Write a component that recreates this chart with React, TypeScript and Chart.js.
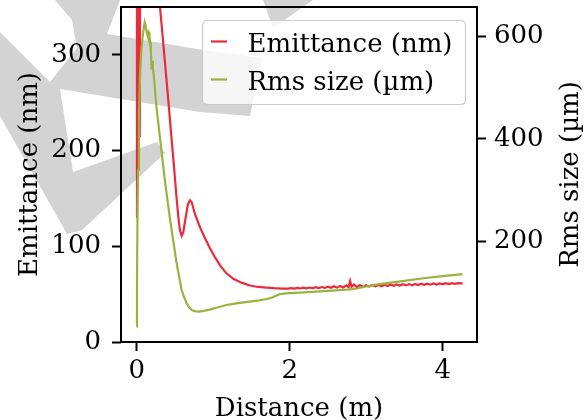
import React, { useEffect, useRef } from "react";
import { Chart, registerables } from "chart.js";

Chart.register(...registerables);

// ---------------- data ----------------
const emitX = [
  0.0, 0.004, 0.011, 0.018, 0.025, 0.032, 0.04, 0.06, 0.15, 0.25, 0.305, 0.35, 0.413, 0.45, 0.488, 0.52,
  0.544, 0.565, 0.588, 0.61, 0.64, 0.67, 0.697, 0.72, 0.76, 0.827, 0.89, 0.958, 1.02, 1.09, 1.17, 1.263,
  1.37, 1.48, 1.59, 1.7, 1.8, 1.9, 1.94, 1.98, 2.02, 2.06, 2.1, 2.14, 2.18, 2.22, 2.26, 2.3, 2.34, 2.38,
  2.42, 2.46, 2.5, 2.54, 2.58, 2.62, 2.66, 2.7, 2.74, 2.77, 2.79, 2.81, 2.84, 2.88, 2.92, 2.96, 3.0, 3.04,
  3.08, 3.12, 3.16, 3.2, 3.24, 3.28, 3.32, 3.36, 3.4, 3.44, 3.48, 3.52, 3.56, 3.6, 3.64, 3.68, 3.72, 3.76,
  3.8, 3.84, 3.88, 3.92, 3.96, 4.0, 4.04, 4.08, 4.12, 4.16, 4.2, 4.26,
];
const emitY = [
  130, 700, 214, 700, 216, 750, 214, 900, 800, 450, 350, 310, 253, 218, 183, 152,
  131, 117, 111, 115, 130, 144, 148, 146, 134, 120, 109, 98, 89, 80, 72, 66,
  62, 59, 57.5, 56.8, 56.2, 55.8, 55.9, 55.7, 56.3, 55.8, 56.5, 55.9, 56.7, 56.0, 56.9, 56.2, 57.2, 56.3,
  57.4, 56.5, 57.8, 56.6, 58.3, 56.8, 58.6, 57.0, 59.2, 57.4, 63.8, 57.6, 60.0, 57.4, 59.4, 57.6, 59.3, 57.9,
  59.5, 58.1, 59.6, 58.3, 59.8, 58.5, 60.0, 58.7, 60.1, 58.9, 60.3, 59.1, 60.5, 59.3, 60.7, 59.5, 60.9, 59.7,
  61.0, 59.9, 61.2, 60.1, 61.3, 60.3, 61.4, 60.5, 61.5, 60.7, 61.5, 61.2,
];

const rmsX = [
  0.0, 0.004, 0.01, 0.018, 0.03, 0.045, 0.06, 0.075, 0.09, 0.105, 0.115, 0.125, 0.135, 0.145, 0.155, 0.165,
  0.175, 0.185, 0.195, 0.203, 0.212, 0.222, 0.26, 0.31, 0.37, 0.435, 0.52, 0.588, 0.62, 0.654, 0.69, 0.72,
  0.76, 0.805, 0.86, 0.95, 1.05, 1.176, 1.3, 1.45, 1.6, 1.7, 1.76, 1.82, 1.87, 1.95, 2.13, 2.4, 2.6, 2.79,
  2.88, 3.0, 3.11, 3.3, 3.5, 3.75, 4.0, 4.26,
];
const rmsY = [
  35, 120, 240, 340, 450, 530, 570, 595, 612, 627, 622, 612, 606, 600, 608, 606,
  588, 570, 535, 552, 535, 526, 460, 395, 318, 245, 160, 106, 92, 80, 72, 67,
  65, 64, 65, 68, 72, 77, 80, 83, 86, 88.6, 91, 95, 98, 99.5, 101, 103.5, 105.5, 107.5,
  109, 113, 116, 120, 124, 129, 133, 137,
];

const xTicks = [0, 2, 4];
const leftTicks = [0, 100, 200, 300];
const rightTicks = [200, 400, 600];

const xTitle = "Distance (m)";
const leftTitle = "Emittance (nm)";
const rightTitle = "Rms size (µm)";
const seriesNames = ["Emittance (nm)", "Rms size (µm)"];

// ---------------- style ----------------
const RED = "#eb2a3b";
const GREEN = "#9ab33f";
const FONT_FAMILY = "'DejaVu Serif', serif";
const FONT_SIZE = 26;

// background watermark decoration (grey shapes)
const watermarkShapes: number[][][] = [
  [
    [55, 0], [120, 0], [107, 34], [203, 50], [262, 58], [250, 116], [200, 112], [60, 89], [73, 172],
    [157, 142], [165, 153], [82, 230], [67, 234], [0, 116], [0, 32], [50, 82], [77, 48], [72, 20],
  ],
  [[263, 0], [313, 0], [273, 28]],
];

export default function App() {
  const canvasRef = useRef<HTMLCanvasElement | null>(null);

  useEffect(() => {
    const canvas = canvasRef.current;
    if (!canvas) return;

    const watermarkPlugin = {
      id: "watermark",
      beforeDraw(chart: any) {
        const ctx = chart.ctx;
        ctx.save();
        ctx.fillStyle = "#ffffff";
        ctx.fillRect(0, 0, chart.width, chart.height);
        ctx.fillStyle = "#d3d3d3";
        for (const shape of watermarkShapes) {
          ctx.beginPath();
          shape.forEach((p, i) => (i === 0 ? ctx.moveTo(p[0], p[1]) : ctx.lineTo(p[0], p[1])));
          ctx.closePath();
          ctx.fill();
        }
        ctx.restore();
      },
    };

    const framePlugin = {
      id: "frame",
      afterDatasetsDraw(chart: any) {
        const { ctx, chartArea: a } = chart;
        ctx.save();
        ctx.strokeStyle = "#000";
        ctx.lineWidth = 2;
        ctx.strokeRect(a.left, a.top, a.right - a.left, a.bottom - a.top);
        ctx.restore();
      },
      afterDraw(chart: any) {
        const { ctx, chartArea: a } = chart;
        ctx.save();
        const font = `${FONT_SIZE}px ${FONT_FAMILY}`;
        ctx.font = font;
        ctx.fillStyle = "#000";
        // axis titles
        ctx.textAlign = "center";
        ctx.textBaseline = "alphabetic";
        ctx.fillText(xTitle, (a.left + a.right) / 2, 415.5);
        const midY = (a.top + a.bottom) / 2;
        ctx.save();
        ctx.translate(36.5, midY);
        ctx.rotate(-Math.PI / 2);
        ctx.fillText(leftTitle, 0, 0);
        ctx.restore();
        ctx.save();
        ctx.translate(578, midY);
        ctx.rotate(-Math.PI / 2);
        ctx.fillText(rightTitle, 0, 0);
        ctx.restore();

        // legend
        const tw = Math.max(...seriesNames.map((s) => ctx.measureText(s).width));
        const boxW = 45 + tw + 13;
        const boxH = 84;
        const boxR = a.right - 11.5;
        const boxL = boxR - boxW;
        const boxT = a.top + 13.5;
        ctx.beginPath();
        const r = 5;
        ctx.moveTo(boxL + r, boxT);
        ctx.lineTo(boxR - r, boxT);
        ctx.quadraticCurveTo(boxR, boxT, boxR, boxT + r);
        ctx.lineTo(boxR, boxT + boxH - r);
        ctx.quadraticCurveTo(boxR, boxT + boxH, boxR - r, boxT + boxH);
        ctx.lineTo(boxL + r, boxT + boxH);
        ctx.quadraticCurveTo(boxL, boxT + boxH, boxL, boxT + boxH - r);
        ctx.lineTo(boxL, boxT + r);
        ctx.quadraticCurveTo(boxL, boxT, boxL + r, boxT);
        ctx.closePath();
        ctx.fillStyle = "rgba(255,255,255,0.8)";
        ctx.fill();
        ctx.strokeStyle = "#cccccc";
        ctx.lineWidth = 1.2;
        ctx.stroke();

        const colors = [RED, GREEN];
        const rowY = [boxT + 21, boxT + 59];
        seriesNames.forEach((name, i) => {
          ctx.strokeStyle = colors[i];
          ctx.lineWidth = 2.2;
          ctx.beginPath();
          ctx.moveTo(boxL + 8.5, rowY[i]);
          ctx.lineTo(boxL + 24.5, rowY[i]);
          ctx.stroke();
          ctx.fillStyle = "#000";
          ctx.textAlign = "left";
          ctx.textBaseline = "alphabetic";
          ctx.fillText(name, boxL + 45, rowY[i] + 10);
        });
        ctx.restore();
      },
    };

    const tickFont = { family: FONT_FAMILY, size: FONT_SIZE };
    const gridCommon = {
      display: true,
      drawOnChartArea: false,
      drawTicks: true,
      tickLength: 9,
      tickWidth: 2,
      tickColor: "#000",
    };
    const noPad = (axis: any) => {
      axis.paddingTop = 0;
      axis.paddingBottom = 0;
      axis.paddingLeft = 0;
      axis.paddingRight = 0;
    };

    const chart = new Chart(canvas, {
      type: "line",
      data: {
        datasets: [
          {
            label: seriesNames[1],
            data: rmsX.map((x, i) => ({ x, y: rmsY[i] })),
            borderColor: GREEN,
            backgroundColor: GREEN,
            borderWidth: 2.2,
            pointRadius: 0,
            tension: 0,
            yAxisID: "y2",
            clip: 0,
            order: 0,
          },
          {
            label: seriesNames[0],
            data: emitX.map((x, i) => ({ x, y: emitY[i] })),
            borderColor: RED,
            backgroundColor: RED,
            borderWidth: 2.2,
            pointRadius: 0,
            tension: 0,
            yAxisID: "y",
            clip: 0,
            order: 1,
          },
        ],
      },
      options: {
        responsive: false,
        animation: false,
        devicePixelRatio: 1,
        layout: { padding: { top: 7, left: 0, right: 0, bottom: 0 } },
        plugins: { legend: { display: false }, tooltip: { enabled: false } },
        events: [],
        scales: {
          x: {
            type: "linear",
            position: "bottom",
            min: -0.205,
            max: 4.449,
            grid: gridCommon,
            border: { display: false },
            ticks: { font: tickFont, color: "#000", padding: 5, maxRotation: 0 },
            afterBuildTicks: (axis: any) => {
              axis.ticks = xTicks.map((v) => ({ value: v }));
            },
            afterFit: (axis: any) => {
              axis.height = 78;
              noPad(axis);
            },
          },
          y: {
            type: "linear",
            position: "left",
            min: 0,
            max: 350,
            grid: gridCommon,
            border: { display: false },
            ticks: { font: tickFont, color: "#000", padding: 11 },
            afterBuildTicks: (axis: any) => {
              axis.ticks = leftTicks.map((v) => ({ value: v }));
            },
            afterFit: (axis: any) => {
              axis.width = 121;
              noPad(axis);
            },
          },
          y2: {
            type: "linear",
            position: "right",
            min: 5,
            max: 656.5,
            grid: gridCommon,
            border: { display: false },
            ticks: { font: tickFont, color: "#000", padding: 8 },
            afterBuildTicks: (axis: any) => {
              axis.ticks = rightTicks.map((v) => ({ value: v }));
            },
            afterFit: (axis: any) => {
              axis.width = 108;
              noPad(axis);
            },
          },
        },
      },
      plugins: [watermarkPlugin, framePlugin],
    } as any);

    return () => chart.destroy();
  }, []);

  return (
    <div style={{ position: "absolute", left: 0, top: 0, width: 585, height: 420 }}>
      <canvas ref={canvasRef} width={585} height={420} style={{ display: "block", width: 585, height: 420 }} />
    </div>
  );
}
